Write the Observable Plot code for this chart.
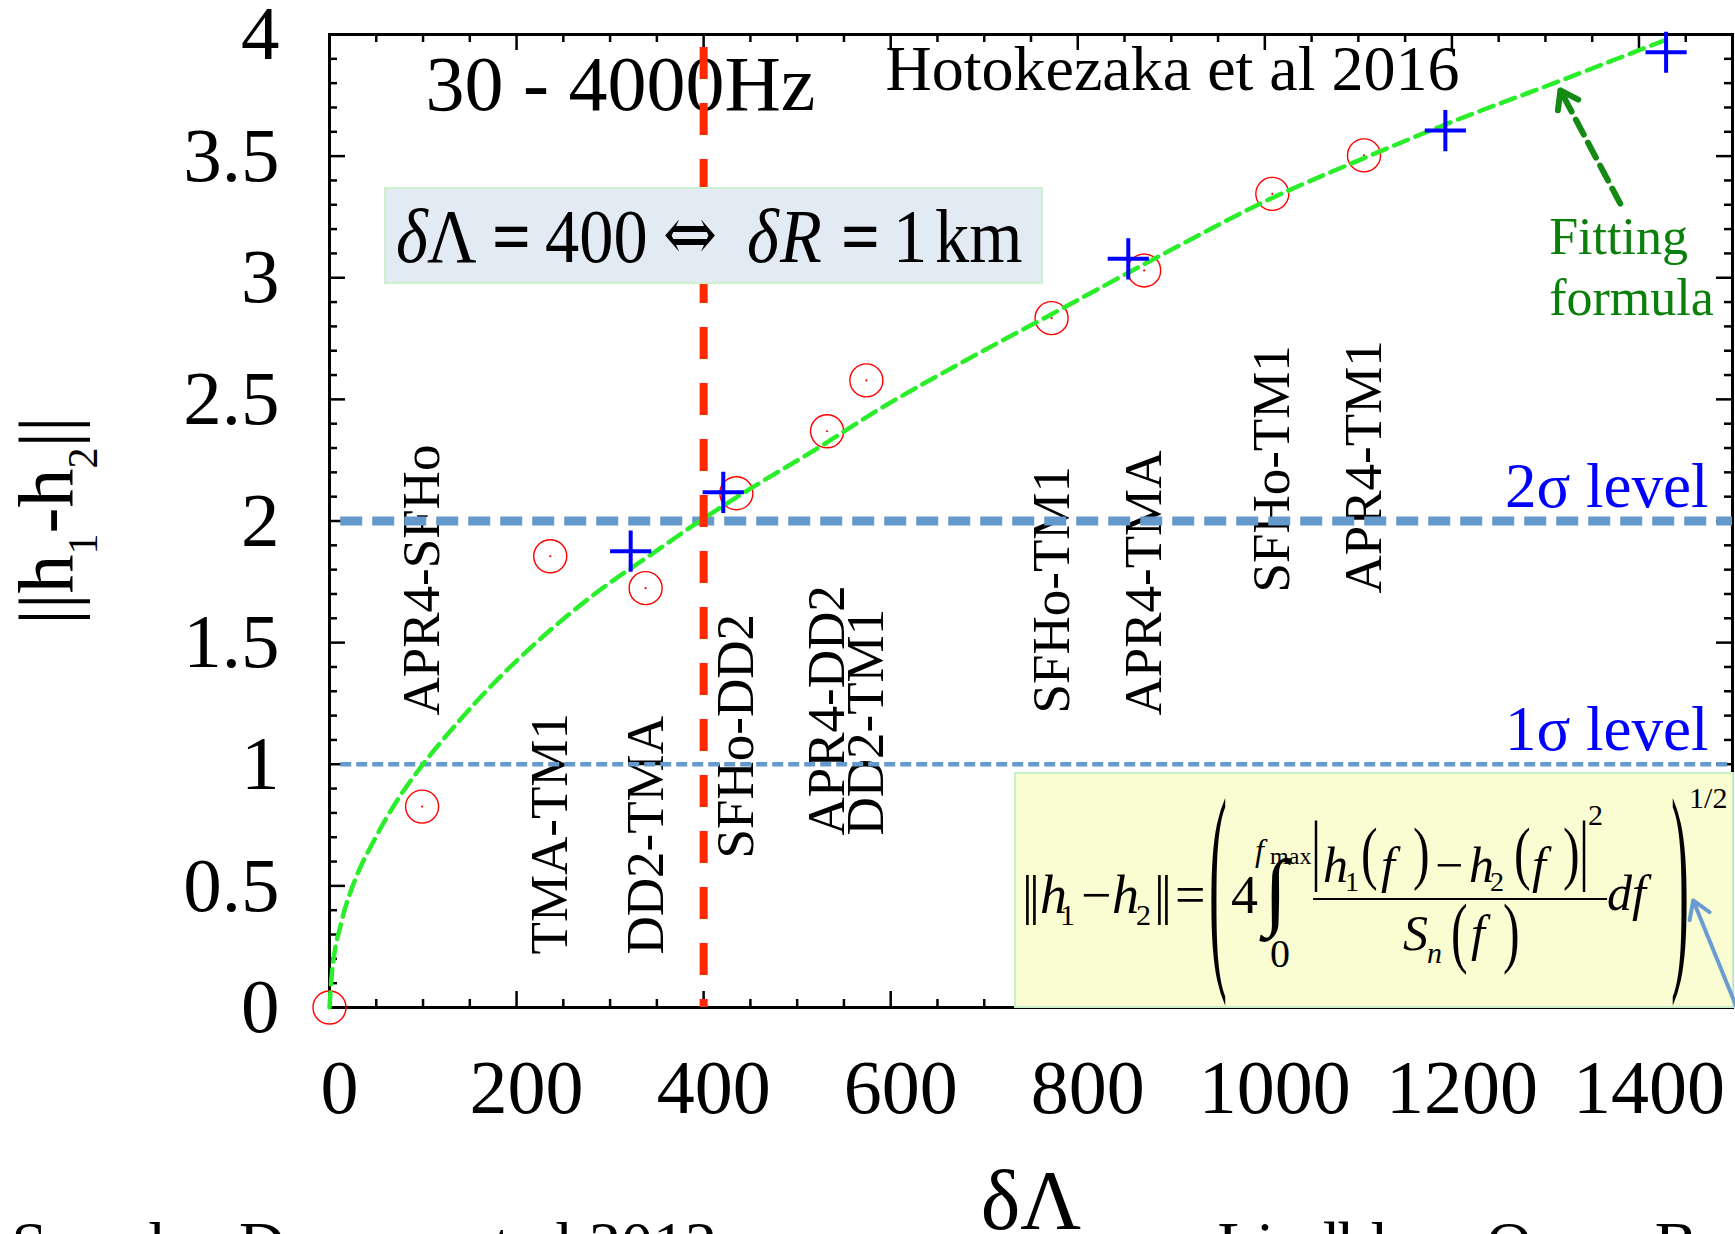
<!DOCTYPE html>
<html>
<head>
<meta charset="utf-8">
<script src="https://cdn.jsdelivr.net/npm/d3@7"></script>
<script src="https://cdn.jsdelivr.net/npm/@observablehq/plot@0.6"></script>
<style>
  html, body { margin: 0; padding: 0; background: #fff; }
  svg { display: block; }
</style>
</head>
<body>
<script>
// ---------------- data ----------------
// EOS pairs from the simulations: tidal difference δΛ and waveform distance ||h1-h2||
const pairNames       = ["", "APR4-SFHo", "TMA-TM1", "DD2-TMA", "SFHo-DD2", "APR4-DD2", "DD2-TM1", "SFHo-TM1", "APR4-TMA", "SFHo-TM1", "APR4-TM1"];
const pairDeltaLambda = [0, 99, 236, 338, 435, 532, 574, 772, 871, 1008, 1106];
const pairNorm        = [0, 0.826, 1.855, 1.724, 2.114, 2.369, 2.578, 2.834, 3.03, 3.345, 3.503];
// where each rotated pair name starts (value on the ||h1-h2|| axis)
const pairLabelBase   = [null, 1.20, 0.218, 0.218, 0.613, 0.707, 0.707, 1.209, 1.20, 1.706, 1.702];

// Hotokezaka et al 2016 points
const hotoDeltaLambda = [322, 421, 854, 1193, 1429];
const hotoNorm        = [1.876, 2.118, 3.078, 3.605, 3.927];

// fitting-formula curve
const fitDeltaLambda = [0, 2.5, 6, 10.7, 16.8, 23.9, 34.6, 45.3, 59.5, 75.5, 96, 139, 180, 221, 287, 343, 396, 453, 518, 588, 680, 772, 878, 1009, 1105, 1193, 1316, 1430];
const fitNorm        = [0, 0.14, 0.24, 0.32, 0.41, 0.49, 0.59, 0.67, 0.77, 0.87, 0.98, 1.18, 1.35, 1.50, 1.71, 1.86, 2.0, 2.14, 2.29, 2.46, 2.66, 2.85, 3.07, 3.33, 3.49, 3.63, 3.81, 3.98];

// detection thresholds
const sigmaLevels = [2, 1];
const sigmaLabels = ["2σ level", "1σ level"];
const sigmaLabelY = [2.056, 1.057];
const sigmaStart  = 12;
const thresholdDeltaLambda = 400;   // δΛ = 400 ⇔ δR = 1 km
const thresholdTop = 3.947;

// axes
const xDomain = [0, 1500];
const yDomain = [0, 4];
const xTickValues = [0, 200, 400, 600, 800, 1000, 1200, 1400];
const yTickValues = [0, 0.5, 1, 1.5, 2, 2.5, 3, 3.5, 4];
const yTickLabels = ["0", "0.5", "1", "1.5", "2", "2.5", "3", "3.5", "4"];
const xMinorTicks = d3.range(0, 1501, 50);
const yMinorTicks = d3.range(0, 41, 1).map(d => d / 10);

// annotations (data coordinates)
const bandNote   = {text: "30 - 4000Hz", x: 102.6, y: 3.688};
const sourceNote = {text: "Hotokezaka et al 2016", x: 594.5, y: 3.770};
const fitNote    = {text: "Fitting\nformula", x: 1304, y: 2.845};
const fitArrow   = {x1: 1380, y1: 3.305, x2: 1316, y2: 3.77};
const normArrow  = {x1: 1508, y1: -0.033, x2: 1458, y2: 0.44};
const radiusBox  = {x1: 59.9, x2: 762.3, y1: 2.976, y2: 3.367};
const formulaBox = {x1: 733.5, x2: 1501, y1: 0, y2: 0.962};
const refLeft  = "See also Damour et al 2012";
const refRight = "Lindblom Owen Brown 2008";

// ---------------- layout ----------------
const W = 1735, H = 1234;
const margin = {left: 329, right: 3, top: 34, bottom: 227};
const frameW = W - margin.left - margin.right;
const frameH = H - margin.top - margin.bottom;
const serif = "'Liberation Serif', 'Times New Roman', serif";

const pairs = pairNames.map((name, i) => ({name, dl: pairDeltaLambda[i], norm: pairNorm[i], base: pairLabelBase[i]}));
const hoto = hotoDeltaLambda.map((dl, i) => ({dl, norm: hotoNorm[i]}));
const fit = fitDeltaLambda.map((dl, i) => ({dl, norm: fitNorm[i]}));
const sigmas = sigmaLevels.map((level, i) => ({level, label: sigmaLabels[i], labelY: sigmaLabelY[i]}));
const xMajorSet = new Set(xTickValues);
const yMajorSet = new Set(yTickValues);
const xMinor = xMinorTicks.filter(d => !xMajorSet.has(d));
const yMinor = yMinorTicks.filter(d => !yMajorSet.has(d));

const tick = {stroke: "black", strokeWidth: 2.5};
const sigmaColor = "#6598cb";

const chart = Plot.plot({
  width: W, height: H,
  marginLeft: margin.left, marginRight: margin.right, marginTop: margin.top, marginBottom: margin.bottom,
  x: {domain: xDomain, axis: null},
  y: {domain: yDomain, axis: null},
  style: {fontFamily: serif, background: "white", color: "black", overflow: "visible"},
  marks: [
    // inward ticks on all four sides
    Plot.tickX(xMinor, {x: d => d, ...tick, insetTop: frameH - 8}),
    Plot.tickX(xMinor, {x: d => d, ...tick, insetBottom: frameH - 8}),
    Plot.tickX(xTickValues, {x: d => d, ...tick, insetTop: frameH - 16}),
    Plot.tickX(xTickValues, {x: d => d, ...tick, insetBottom: frameH - 16}),
    Plot.tickY(yMinor, {y: d => d, ...tick, insetRight: frameW - 8}),
    Plot.tickY(yMinor, {y: d => d, ...tick, insetLeft: frameW - 8}),
    Plot.tickY(yTickValues, {y: d => d, ...tick, insetRight: frameW - 16}),
    Plot.tickY(yTickValues, {y: d => d, ...tick, insetLeft: frameW - 16}),
    Plot.frame({stroke: "black", strokeWidth: 3}),

    // tick labels and axis titles
    Plot.text(xTickValues, {x: d => d, text: d => String(d), frameAnchor: "bottom", lineAnchor: "bottom", dy: 105, dx: 10, fontSize: 76}),
    Plot.text(yTickValues, {y: d => d, text: (d, i) => yTickLabels[i], frameAnchor: "left", textAnchor: "end", dx: -50, fontSize: 77}),
    Plot.text(["δΛ"], {text: d => d, frameAnchor: "bottom", lineAnchor: "bottom", dy: 221, fontSize: 84}),
    Plot.text([refLeft], {text: d => d, frameAnchor: "bottom-left", textAnchor: "start", lineAnchor: "bottom", dx: 11 - margin.left, dy: 258, fontSize: 64}),
    Plot.text([refRight], {text: d => d, frameAnchor: "bottom-left", textAnchor: "start", lineAnchor: "bottom", dx: 1217 - margin.left, dy: 258, fontSize: 64}),

    // rotated pair names
    Plot.text(pairs.filter(d => d.name), {x: "dl", y: "base", text: "name", rotate: -90, textAnchor: "start", fontSize: 53}),

    // header notes
    Plot.text([bandNote], {x: "x", y: "y", text: "text", textAnchor: "start", lineAnchor: "bottom", fontSize: 78}),
    Plot.text([sourceNote], {x: "x", y: "y", text: "text", textAnchor: "start", lineAnchor: "bottom", fontSize: 64}),

    // σ thresholds
    Plot.ruleY(sigmas.filter(d => d.level === 2), {y: "level", x1: sigmaStart, x2: xDomain[1], stroke: sigmaColor, strokeWidth: 9, strokeDasharray: "22,10", ariaLabel: "two-sigma"}),
    Plot.ruleY(sigmas.filter(d => d.level === 1), {y: "level", x1: sigmaStart, x2: xDomain[1], stroke: sigmaColor, strokeWidth: 4.5, strokeDasharray: "11,5", ariaLabel: "one-sigma"}),
    Plot.text(sigmas, {x: xDomain[1] - 25.6, y: "labelY", text: "label", textAnchor: "end", lineAnchor: "bottom", fill: "#0000ff", fontSize: 63}),

    // simulation pairs
    Plot.dot(pairs, {x: "dl", y: "norm", r: 16.5, fill: "none", stroke: "#ff0000", strokeWidth: 1.4}),
    Plot.dot(pairs, {x: "dl", y: "norm", r: 1.1, fill: "#ff0000"}),

    // fitting formula curve
    Plot.line(fit, {x: "dl", y: "norm", stroke: "#2bee2b", strokeWidth: 4.5, strokeDasharray: "15,8", curve: "monotone-x"}),

    // Hotokezaka et al points
    Plot.dot(hoto, {x: "dl", y: "norm", symbol: "plus", r: 13.3, fill: "none", stroke: "#0000ff", strokeWidth: 4}),

    // δΛ = 400 divider
    Plot.ruleX([thresholdDeltaLambda], {x: d => d, y1: thresholdTop, y2: 0, stroke: "#ff2a00", strokeWidth: 8, strokeDasharray: "32,24", ariaLabel: "radius-divider"}),

    // annotation boxes
    Plot.rect([radiusBox], {x1: "x1", x2: "x2", y1: "y1", y2: "y2", fill: "#e2eaf3", stroke: "#cff0cf", strokeWidth: 2}),
    Plot.rect([formulaBox], {x1: "x1", x2: "x2", y1: "y1", y2: "y2", fill: "#fafdd2", stroke: "#c9efca", strokeWidth: 2}),

    // "Fitting formula" pointer
    Plot.text([fitNote], {x: "x", y: "y", text: "text", textAnchor: "start", lineAnchor: "bottom", lineHeight: 1.19, fill: "#0b7f0b", fontSize: 52}),
    Plot.arrow([fitArrow], {x1: "x1", y1: "y1", x2: "x2", y2: "y2", stroke: "#148a14", strokeWidth: 6, strokeDasharray: "17,9", headLength: 0, ariaLabel: "fit-arrow"}),
    Plot.arrow([fitArrow], {x1: "x1", y1: "y1", x2: "x2", y2: "y2", stroke: "#148a14", strokeWidth: 6, headLength: 5, headAngle: 70, insetStart: 120, ariaLabel: "fit-arrow-head"}),

    // pointer to the norm definition
    Plot.arrow([normArrow], {x1: "x1", y1: "y1", x2: "x2", y2: "y2", stroke: "#6a9bd1", strokeWidth: 4, headLength: 7.5, headAngle: 65})
  ]
});

document.body.appendChild(chart);

// ---------------- decorations drawn in pixel space ----------------
const svg = d3.select(chart);
const X = v => chart.scale("x").apply(v);
const Y = v => chart.scale("y").apply(v);

// soft drop shadow for the dashed guide lines
const defs = svg.insert("defs", ":first-child");
defs.append("filter").attr("id", "soft-shadow").attr("x", "-20%").attr("y", "-20%").attr("width", "140%").attr("height", "140%")
  .append("feDropShadow").attr("dx", 1).attr("dy", 3).attr("stdDeviation", 2)
  .attr("flood-color", "#000").attr("flood-opacity", 0.3);
for (const name of ["two-sigma", "one-sigma", "radius-divider", "fit-arrow", "fit-arrow-head"]) {
  svg.selectAll(`g[aria-label="${name}"]`).attr("filter", "url(#soft-shadow)");
}

function glyphs(x0, y0, pieces) {
  const g = svg.append("g").attr("font-family", serif).attr("text-anchor", "start").attr("fill", "black");
  for (const p of pieces) {
    const t = g.append("text")
      .attr("transform", `translate(${x0 + p.dx},${y0 + p.dy}) scale(${p.sx || 1},${p.sy || 1})`)
      .attr("font-size", p.s)
      .text(p.t);
    if (p.i) t.attr("font-style", "italic");
    if (p.b) t.attr("font-weight", "bold");
    if (p.f) t.attr("font-family", p.f);
  }
  return g;
}

// δΛ = 400 ⇔ δR = 1 km
glyphs(X(radiusBox.x1), Y(radiusBox.y2), [
  {t: "δ", dx: 11, dy: 74, s: 76, i: 1, sx: 0.9},
  {t: "Λ", dx: 42, dy: 74, s: 76, sx: 0.9},
  {t: "=", dx: 107, dy: 74, s: 76, b: 1, sx: 0.9},
  {t: "400", dx: 160, dy: 74, s: 76, sx: 0.9},
  {t: "⇔", dx: 278, dy: 72, s: 76, f: "'DejaVu Serif', serif", sx: 0.85},
  {t: "δ", dx: 362, dy: 74, s: 76, i: 1, sx: 0.9},
  {t: "R", dx: 395, dy: 74, s: 76, i: 1, sx: 0.9},
  {t: "=", dx: 456, dy: 74, s: 76, b: 1, sx: 0.9},
  {t: "1", dx: 508, dy: 74, s: 76, sx: 0.9},
  {t: "km", dx: 550, dy: 74, s: 76, sx: 0.9}
]);

// ||h1 - h2|| = ( 4 ∫ |h1(f) - h2(f)|^2 / Sn(f) df )^(1/2)
const fx = X(formulaBox.x1), fy = Y(formulaBox.y2);
glyphs(fx, fy, [
  {t: "|", dx: 7, dy: 140, s: 54},
  {t: "|", dx: 14, dy: 140, s: 54},
  {t: "h", dx: 25, dy: 140, s: 54, i: 1},
  {t: "1", dx: 45, dy: 152, s: 30},
  {t: "−", dx: 66, dy: 140, s: 54},
  {t: "h", dx: 97, dy: 140, s: 54, i: 1},
  {t: "2", dx: 121, dy: 152, s: 30},
  {t: "|", dx: 139, dy: 140, s: 54},
  {t: "|", dx: 146, dy: 140, s: 54},
  {t: "=", dx: 160, dy: 140, s: 54},
  {t: "(", dx: 194, dy: 184, s: 54, sy: 4.24},
  {t: "4", dx: 216, dy: 140, s: 54},
  {t: "∫", dx: 249, dy: 146, s: 66, sx: 1.3, sy: 1.3},
  {t: "f", dx: 240, dy: 88, s: 32, i: 1},
  {t: "max", dx: 255, dy: 91, s: 24},
  {t: "0", dx: 255, dy: 194, s: 40},
  {t: "|", dx: 296, dy: 102, s: 50, sy: 1.57},
  {t: "h", dx: 308, dy: 109, s: 50, i: 1},
  {t: "1", dx: 330, dy: 118, s: 28},
  {t: "(", dx: 346, dy: 102.6, s: 50, sy: 1.4},
  {t: "f", dx: 366, dy: 109, s: 50, i: 1},
  {t: ")", dx: 398, dy: 102.6, s: 50, sy: 1.4},
  {t: "−", dx: 420, dy: 109, s: 50},
  {t: "h", dx: 454, dy: 109, s: 50, i: 1},
  {t: "2", dx: 475, dy: 118, s: 28},
  {t: "(", dx: 499, dy: 102.6, s: 50, sy: 1.4},
  {t: "f", dx: 517, dy: 109, s: 50, i: 1},
  {t: ")", dx: 548, dy: 102.6, s: 50, sy: 1.4},
  {t: "|", dx: 564, dy: 102, s: 50, sy: 1.57},
  {t: "2", dx: 573, dy: 52, s: 30},
  {t: "df", dx: 592, dy: 137, s: 50, i: 1},
  {t: "S", dx: 388, dy: 177, s: 50, i: 1},
  {t: "n", dx: 412, dy: 190, s: 30, i: 1},
  {t: "(", dx: 436, dy: 184.8, s: 50, sy: 1.58},
  {t: "f", dx: 456, dy: 177, s: 50, i: 1},
  {t: ")", dx: 488, dy: 184.8, s: 50, sy: 1.58},
  {t: ")", dx: 656, dy: 184, s: 54, sy: 4.24},
  {t: "1/2", dx: 674, dy: 35, s: 30}
]);
svg.append("line")
  .attr("x1", fx + 298).attr("x2", fx + 592)
  .attr("y1", fy + 126).attr("y2", fy + 126)
  .attr("stroke", "black").attr("stroke-width", 2);

// y-axis title ||h1-h2||
const yTitle = svg.append("text")
  .attr("transform", `translate(${margin.left - 256},${margin.top + frameH / 2}) rotate(-90)`)
  .attr("text-anchor", "middle")
  .attr("font-family", serif)
  .attr("font-size", 78);
yTitle.append("tspan").text("||h");
yTitle.append("tspan").attr("dy", 24).attr("font-size", 42).text("1");
yTitle.append("tspan").attr("dy", -24).text("-h");
yTitle.append("tspan").attr("dy", 24).attr("font-size", 42).text("2");
yTitle.append("tspan").attr("dy", -24).text("||");
</script>
</body>
</html>
